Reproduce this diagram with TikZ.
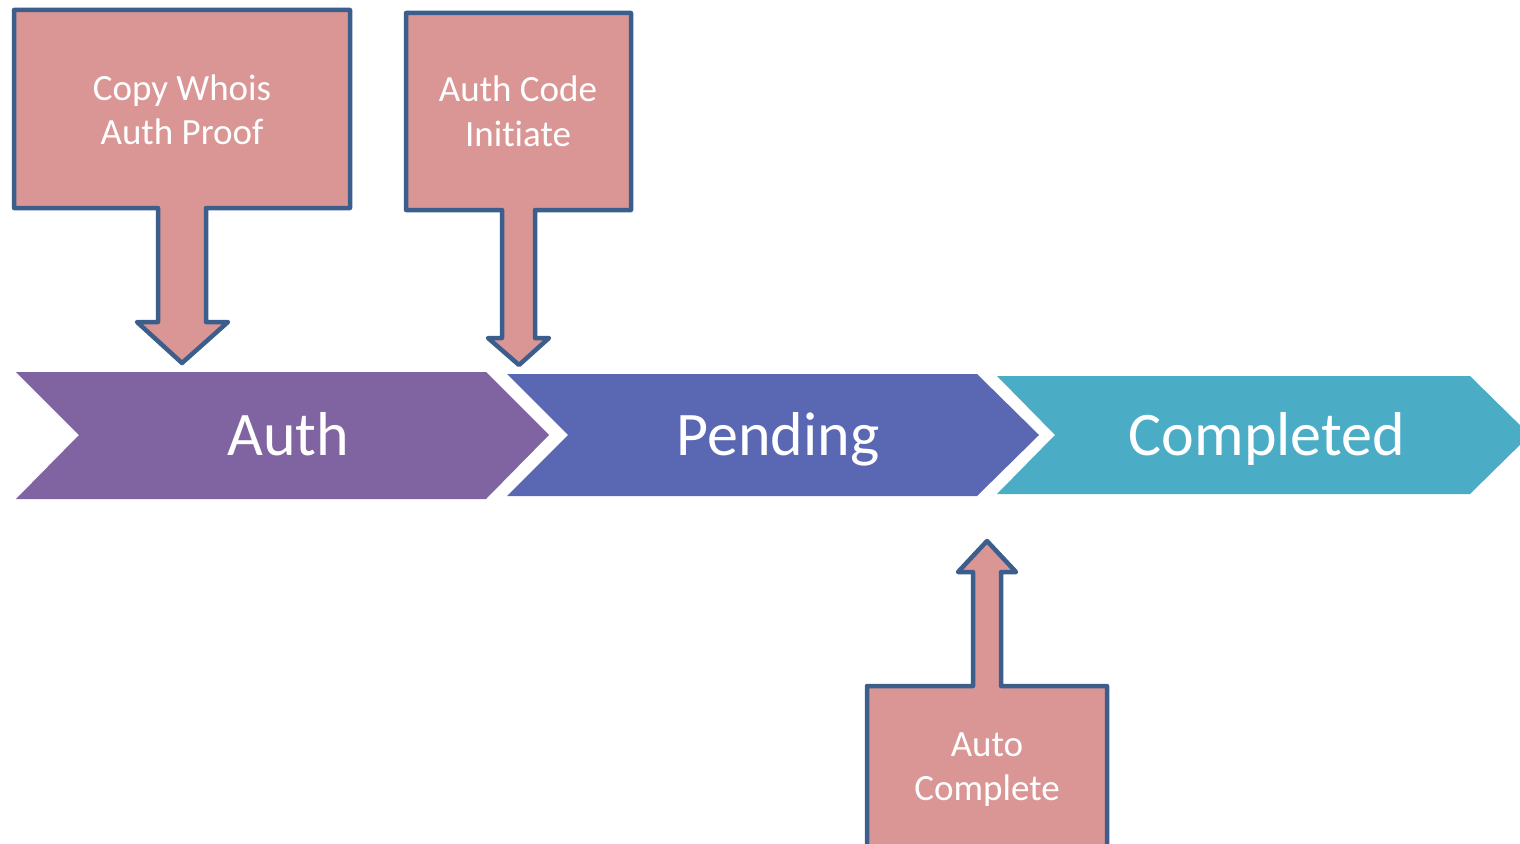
\documentclass[tikz,border=0pt]{standalone}
\usepackage{fontspec}
\setmainfont{Carlito}[Ligatures=NoCommon]
\definecolor{authc}{HTML}{8064A2}
\definecolor{pendc}{HTML}{5A67B2}
\definecolor{compc}{HTML}{4BACC6}
\definecolor{callfill}{HTML}{D99694}
\definecolor{calldraw}{HTML}{3B5E8C}
\tikzset{
  chev/.style={draw=none},
  callout/.style={fill=callfill, draw=calldraw, line width=4.5pt, line join=round},
  chevtext/.style={text=white, font=\fontsize{62}{74}\selectfont, anchor=base, inner sep=0pt},
  calltext/.style={text=white, font=\fontsize{37}{44}\selectfont, align=center, anchor=base, inner sep=0pt},
}
\begin{document}
\begin{tikzpicture}[x=1pt,y=-1pt]
\useasboundingbox (0,0) rectangle (1520,843);
% chevrons
\fill[authc] (16,372) -- (486,372) -- (549,435) -- (486,499) -- (16,499) -- (79,435) -- cycle;
\fill[pendc] (507,374) -- (977,374) -- (1039,435) -- (977,496) -- (507,496) -- (568,435) -- cycle;
\fill[compc] (997,376) -- (1470,376) -- (1530,435) -- (1470,494) -- (997,494) -- (1055,435) -- cycle;
\node[chevtext] (auth) at (288,455) {Auth};
\node[chevtext] (pending) at (778,455) {Pending};
\node[chevtext] (completed) at (1267,455) {Completed};
% callout 1
\draw[callout] (14,10) -- (350,10) -- (350,208) -- (206,208) -- (206,322) -- (228,322) -- (182,363) -- (137,322) -- (158,322) -- (158,208) -- (14,208) -- cycle;
\node[calltext] (c1a) at (182,100) {Copy Whois};
\node[calltext] (c1b) at (182,144) {Auth Proof};
% callout 2
\draw[callout] (406,13) -- (631,13) -- (631,210) -- (535,210) -- (535,338) -- (549,338) -- (519,365) -- (488,338) -- (502,338) -- (502,210) -- (406,210) -- cycle;
\node[calltext] (c2a) at (518,101) {Auth Code};
\node[calltext] (c2b) at (518,146) {Initiate};
% callout 3
\draw[callout] (867,860) -- (867,686) -- (973,686) -- (973,572) -- (958,572) -- (987,541) -- (1016,572) -- (1001,572) -- (1001,686) -- (1107,686) -- (1107,860);
\node[calltext] (c3a) at (987,756) {Auto};
\node[calltext] (c3b) at (987,800) {Complete};
\end{tikzpicture}
\end{document}
